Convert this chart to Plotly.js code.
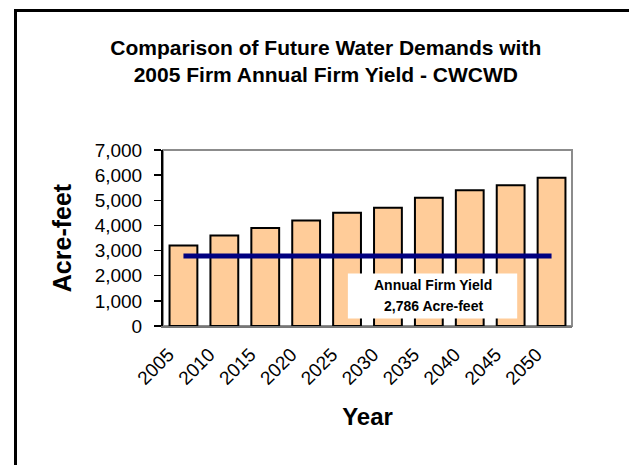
<!DOCTYPE html>
<html>
<head>
<meta charset="utf-8">
<script src="https://cdn.plot.ly/plotly-3.0.1.min.js"></script>
<style>
  html, body { margin: 0; padding: 0; background: #fff; }
  #chart { width: 629px; height: 465px; position: relative; }
  #frame { position: absolute; left: 14px; top: 9px; width: 700px; height: 600px;
           border-left: 3px solid #000; border-top: 3px solid #000; pointer-events: none; }
  #wrap { position: relative; width: 629px; height: 465px; overflow: hidden; }
</style>
</head>
<body>
<div id="wrap">
  <div id="chart"></div>
  <div id="frame"></div>
</div>
<script>
const years = ['2005', '2010', '2015', '2020', '2025', '2030', '2035', '2040', '2045', '2050'];
const demands = [3200, 3600, 3900, 4200, 4500, 4700, 5100, 5400, 5600, 5900];
const firmYield = [2786, 2786, 2786, 2786, 2786, 2786, 2786, 2786, 2786, 2786];
const titleText = 'Comparison of Future Water Demands with<br>2005 Firm Annual Firm Yield - CWCWD';
const noteLine1 = 'Annual Firm Yield';
const noteLine2 = '2,786 Acre-feet';

const traces = [
  {
    type: 'bar', x: years, y: demands,
    marker: { color: '#FFCC99', line: { color: '#000000', width: 2 } },
    hoverinfo: 'x+y'
  },
  {
    type: 'scatter', mode: 'lines', x: years, y: firmYield,
    line: { color: '#000080', width: 5 }
  }
];

const layout = {
  width: 629, height: 465,
  margin: { l: 163, r: 57, t: 150, b: 139, pad: 0 },
  paper_bgcolor: '#ffffff', plot_bgcolor: '#ffffff',
  showlegend: false,
  bargap: 0.32,
  font: { family: 'Arial, "Liberation Sans", sans-serif', color: '#000' },
  title: {
    text: titleText,
    font: { size: 21, family: 'Arial, "Liberation Sans", sans-serif', weight: 'bold' },
    x: 0.518, xref: 'container', xanchor: 'center',
    y: 0.882, yref: 'container', yanchor: 'top'
  },
  xaxis: {
    type: 'category', tickangle: -45, ticks: '',
    tickfont: { size: 19 },
    ticklabelstandoff: 8,
    ticklabelshift: -15,
    showline: true, linecolor: '#777777', linewidth: 2,
    showgrid: false, zeroline: false,
    title: { text: 'Year', font: { size: 24, weight: 'bold' }, standoff: 20 }
  },
  yaxis: {
    range: [0, 7000], dtick: 1000, tickformat: ',d',
    ticks: 'outside', ticklen: 7, tickwidth: 1.5, tickcolor: '#000',
    ticklabelstandoff: 8,
    tickfont: { size: 19 },
    showline: true, linecolor: '#000', linewidth: 2,
    showgrid: false, zeroline: false,
    title: { text: 'Acre-feet', font: { size: 25, weight: 'bold' }, standoff: 16 }
  },
  shapes: [
    { type: 'rect', xref: 'paper', yref: 'paper', x0: 0, x1: 1, y0: 0, y1: 1,
      line: { color: '#8c8c8c', width: 2 }, fillcolor: 'rgba(0,0,0,0)', layer: 'below' },
    { type: 'rect', xref: 'paper', yref: 'paper', x0: 0.452, x1: 0.866, y0: 0.042, y1: 0.298,
      line: { width: 0 }, fillcolor: '#ffffff', layer: 'above' }
  ],
  annotations: [
    { xref: 'paper', yref: 'paper', x: 0.661, y: 0.232, text: noteLine1, showarrow: false,
      font: { size: 14, weight: 'bold' }, xanchor: 'center', yanchor: 'middle' },
    { xref: 'paper', yref: 'paper', x: 0.661, y: 0.114, text: noteLine2, showarrow: false,
      font: { size: 14, weight: 'bold' }, xanchor: 'center', yanchor: 'middle' }
  ]
};

Plotly.newPlot('chart', traces, layout, { displayModeBar: false, staticPlot: true });
</script>
</body>
</html>
